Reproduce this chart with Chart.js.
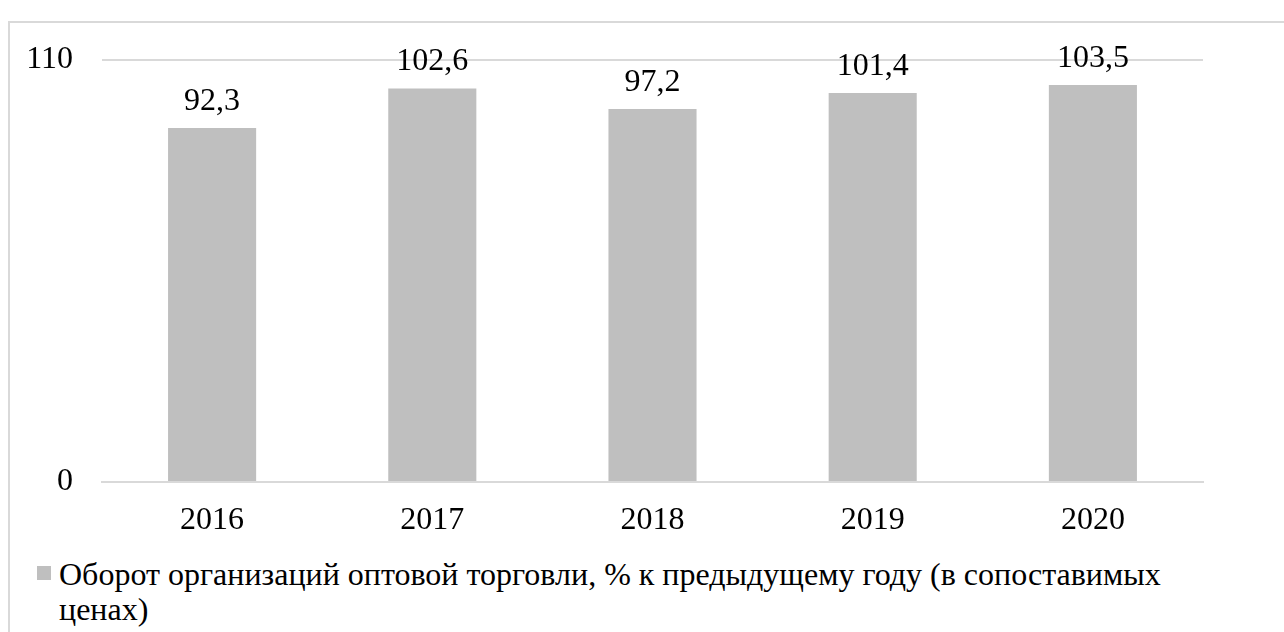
<!DOCTYPE html>
<html>
<head>
<meta charset="utf-8">
<script src="https://cdn.jsdelivr.net/npm/chart.js@4/dist/chart.umd.min.js"></script>
<style>
  html, body { margin: 0; padding: 0; background: #fff; width: 1284px; height: 632px; overflow: hidden; }
  #frame { position: absolute; left: 8px; top: 21px; width: 1400px; height: 700px;
           border-left: 2px solid #d9d9d9; border-top: 2px solid #d9d9d9; }
  #c { position: absolute; left: 0; top: 0; }
  #legendBox { position: absolute; left: 37px; top: 566px; width: 14px; height: 14px; background: #bfbfbf; }
  #legendText { position: absolute; left: 59px; top: 557px; width: 1150px;
                font-family: 'Liberation Serif', 'Times New Roman', serif; font-size: 32px; line-height: 35px; color: #000; }
</style>
</head>
<body>
<div id="frame"></div>
<canvas id="c" width="1284" height="540"></canvas>
<div id="legendBox"></div>
<div id="legendText"></div>
<script>
const categories = ['2016', '2017', '2018', '2019', '2020'];
const turnoverValues = [92.3, 102.6, 97.2, 101.4, 103.5];
const seriesLabel = 'Оборот организаций оптовой торговли, % к предыдущему году (в сопоставимых ценах)';
const yTicks = [0, 110];

document.getElementById('legendText').textContent = seriesLabel;

const FONT = "'Liberation Serif', 'Times New Roman', serif";

const valueLabels = {
  id: 'valueLabels',
  afterDatasetsDraw(chart) {
    const ctx = chart.ctx;
    const meta = chart.getDatasetMeta(0);
    ctx.save();
    ctx.font = '32px ' + FONT;
    ctx.fillStyle = '#000';
    ctx.textAlign = 'center';
    ctx.textBaseline = 'alphabetic';
    meta.data.forEach((bar, i) => {
      const v = chart.data.datasets[0].data[i];
      ctx.fillText(v.toFixed(1).replace('.', ','), bar.x, bar.y - 18);
    });
    ctx.restore();
  }
};

new Chart(document.getElementById('c'), {
  type: 'bar',
  data: {
    labels: categories,
    datasets: [{
      label: seriesLabel,
      data: turnoverValues,
      backgroundColor: '#bfbfbf',
      borderWidth: 0,
      barPercentage: 0.4,
      categoryPercentage: 1.0
    }]
  },
  options: {
    responsive: false,
    animation: false,
    layout: { padding: { left: 0, right: 81, top: 60, bottom: 0 } },
    plugins: { legend: { display: false }, tooltip: { enabled: false } },
    scales: {
      x: {
        grid: { display: false, drawTicks: false },
        border: { display: true, color: '#d9d9d9', width: 2 },
        ticks: { color: '#000', font: { family: FONT, size: 32 }, padding: 19 },
        afterFit(scale) { scale.height = 58; }
      },
      y: {
        min: 0,
        max: 110,
        afterBuildTicks(scale) { scale.ticks = yTicks.map(v => ({ value: v })); },
        grid: { color: '#d9d9d9', lineWidth: 2, drawTicks: false },
        border: { display: false },
        ticks: { color: '#000', font: { family: FONT, size: 32 }, padding: 29 },
        afterFit(scale) { scale.width = 102; }
      }
    }
  },
  plugins: [valueLabels]
});
</script>
</body>
</html>
